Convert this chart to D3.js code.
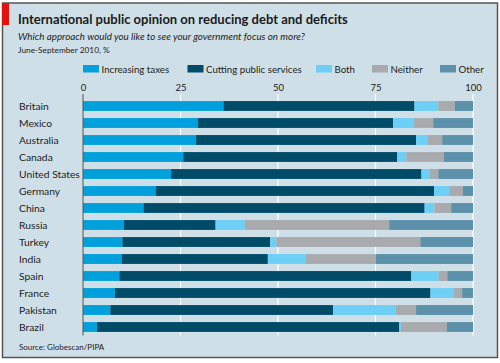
<!DOCTYPE html>
<html>
<head>
<meta charset="utf-8">
<script src="https://cdn.jsdelivr.net/npm/d3@7"></script>
<style>
  body { margin: 0; background: #fff; }
  svg { display: block; font-family: Lato, "Open Sans", sans-serif; }
</style>
</head>
<body>
<svg class="debt-chart" width="500" height="363"></svg>
<script>
// data
let countries = ['Britain', 'Mexico', 'Australia', 'Canada', 'United States', 'Germany', 'China',
	'Russia', 'Turkey', 'India', 'Spain', 'France', 'Pakistan', 'Brazil'];
let seriesNames = ['Increasing taxes', 'Cutting public services', 'Both', 'Neither', 'Other'];
let increasingTaxes = [36, 29.5, 29, 25.7, 22.6, 18.6, 15.5, 10.5, 10.1, 9.9, 9.3, 8.2, 7, 3.6];
let cuttingServices = [49, 50, 56.4, 54.9, 64.2, 71.4, 72.1, 23.5, 37.9, 37.5, 74.9, 80.9, 57.1, 77.5];
let both = [6.1, 5.3, 2.9, 2.3, 2, 3.9, 2.5, 7.5, 1.6, 9.7, 7, 5.9, 16.1, 0.4];
let neither = [4.2, 5, 3.8, 9.6, 2.3, 3.5, 4.3, 37, 36.9, 18, 2.2, 2.2, 5.2, 11.8];
let other = [4.7, 10.2, 7.9, 7.5, 8.9, 2.6, 5.6, 21.5, 13.5, 24.9, 6.6, 2.8, 14.6, 6.7];
let xTicks = [0, 25, 50, 75, 100];

let colors = ['#00a0dc', '#004c68', '#6dcff6', '#a8aaad', '#5d90aa'];
let margin = { top: 97.5, left: 83, right: 27 };
let width = 500, height = 363;

let svg = d3.select('.debt-chart');

// panel + frame
svg.append('rect').attr('x', 2.5).attr('y', 3).attr('width', 495).attr('height', 354.5)
	.attr('fill', '#cfdfe7').attr('stroke', '#555').attr('stroke-width', 1.5);
svg.append('rect').attr('x', 2).attr('y', 3).attr('width', 7).attr('height', 22).attr('fill', '#e3120b');

// titles
svg.append('text').attr('x', 18).attr('y', 24).attr('font-size', 13).attr('font-weight', 'bold')
	.attr('fill', '#1a1a1a').text('International public opinion on reducing debt and deficits');
svg.append('text').attr('x', 18).attr('y', 40).attr('font-size', 9.8).attr('font-style', 'italic')
	.attr('fill', '#222').text('Which approach would you like to see your government focus on more?');
svg.append('text').attr('x', 18).attr('y', 53).attr('font-size', 8.3)
	.attr('fill', '#222').text('June-September 2010, %');

// scales
let x = d3.scaleLinear().domain([0, 100]).range([margin.left, width - margin.right]);
let y = d3.scaleBand().domain(countries)
	.range([margin.top, margin.top + countries.length * 17])
	.paddingInner(0.42).paddingOuter(0.21);

// legend
let legendX = [83, 187.5, 316, 372, 440];
let legend = svg.append('g').attr('class', 'legend');
seriesNames.forEach(function(name, i) {
	legend.append('rect').attr('x', legendX[i]).attr('y', 65).attr('width', 16).attr('height', 7.5)
		.attr('fill', colors[i]);
	legend.append('text').attr('x', legendX[i] + 18.5).attr('y', 72.5).attr('font-size', 9.7)
		.attr('fill', '#222').text(name);
});

// gridlines + top axis labels
let gridBottom = y.range()[1];
svg.append('g').selectAll('line').data(xTicks.slice(1)).enter().append('line')
	.attr('x1', function(d) { return x(d); }).attr('x2', function(d) { return x(d); })
	.attr('y1', 94).attr('y2', gridBottom)
	.attr('stroke', '#fff').attr('stroke-width', 1.2);

let axis = svg.append('g').attr('transform', 'translate(0,' + 94 + ')')
	.call(d3.axisTop(x).tickValues(xTicks).tickSize(0).tickPadding(3));
axis.select('.domain').remove();
axis.selectAll('text').attr('font-size', 9.5).attr('fill', '#222').style('font-family', 'Lato, sans-serif');

// stacked bars
let rows = countries.map(function(c, i) {
	return { country: c, vals: [increasingTaxes[i], cuttingServices[i], both[i], neither[i], other[i]] };
});
let stack = d3.stack().keys([0, 1, 2, 3, 4]).value(function(d, k) { return d.vals[k]; });
let layers = stack(rows);

svg.append('g').selectAll('g').data(layers).enter().append('g')
	.attr('fill', function(d, i) { return colors[i]; })
	.selectAll('rect').data(function(d) { return d; }).enter().append('rect')
	.attr('x', function(d) { return x(d[0]); })
	.attr('width', function(d) { return x(d[1]) - x(d[0]); })
	.attr('y', function(d) { return y(d.data.country); })
	.attr('height', y.bandwidth());

// zero line
svg.append('line').attr('x1', x(0)).attr('x2', x(0)).attr('y1', 94).attr('y2', gridBottom)
	.attr('stroke', '#555').attr('stroke-width', 1);

// country labels
svg.append('g').selectAll('text').data(countries).enter().append('text')
	.attr('x', 19).attr('y', function(d) { return y(d) + y.bandwidth() / 2 + 4; })
	.attr('font-size', 10.3).attr('fill', '#222').text(function(d) { return d; });

svg.append('text').attr('x', 19).attr('y', 350).attr('font-size', 8).attr('fill', '#222')
	.text('Source: Globescan/PIPA');
</script>
</body>
</html>
